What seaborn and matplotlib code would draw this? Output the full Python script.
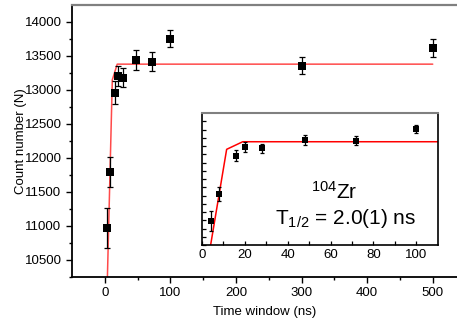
import numpy as np
import pandas as pd
import matplotlib
matplotlib.use('Agg')
import matplotlib.pyplot as plt
import seaborn as sns

# measured points
time_ns = [4, 8, 16, 20, 28, 48, 72, 100, 300, 500]
counts = [10970, 11790, 12960, 13210, 13180, 13445, 13415, 13755, 13360, 13620]
errors = [300, 220, 170, 150, 140, 150, 140, 120, 130, 130]

# fitted curve
fit_x = [4, 11.5, 19, 500]
fit_y = [10240, 13150, 13380, 13380]

data = pd.DataFrame({'t': time_ns, 'n': counts, 'err': errors})
fit = pd.DataFrame({'t': fit_x, 'n': fit_y})

sns.set_style("ticks")
plt.rcParams['font.family'] = ['Liberation Sans', 'DejaVu Sans']
plt.rcParams['mathtext.fontset'] = 'custom'
plt.rcParams['mathtext.rm'] = 'Liberation Sans'
plt.rcParams['mathtext.it'] = 'Liberation Sans:italic'
for k in ['text.color', 'axes.labelcolor', 'xtick.color', 'ytick.color']:
    plt.rcParams[k] = 'black'

fig = plt.figure(figsize=(4.57, 3.22), dpi=100)
ax = fig.add_axes([0.1575, 0.1398, 0.8425, 0.8447])


def draw(ax, ms, cap, lw_fit, fit_color):
    sns.lineplot(data=fit, x='t', y='n', ax=ax, color=fit_color, lw=lw_fit,
                 sort=False, estimator=None, zorder=2)
    ax.errorbar(data['t'], data['n'], yerr=data['err'], fmt='none',
                ecolor='black', elinewidth=0.9, capsize=cap, capthick=0.9, zorder=3)
    sns.scatterplot(data=data, x='t', y='n', ax=ax, marker='s', s=ms ** 2,
                    color='black', edgecolor='black', linewidth=0, zorder=4)
    ax.set_ylim(10260, 14250)
    ax.set_xlabel('')
    ax.set_ylabel('')


draw(ax, 6, 2.2, 1.1, '#ff4a4a')
ax.set_xlim(-50, 537)
ax.set_xticks([0, 100, 200, 300, 400, 500])
ax.set_xticks(np.arange(50, 537, 100), minor=True)
ax.set_yticks(np.arange(10500, 14001, 500))
ax.set_yticks(np.arange(10250, 14250, 500), minor=True)
ax.tick_params(which='major', direction='out', length=4, width=1, labelsize=9.5)
ax.tick_params(which='minor', direction='out', length=2.5, width=1)
ax.spines['right'].set_visible(False)
ax.spines['top'].set_color('#808080')
ax.spines['top'].set_linewidth(1.6)
for s in ['left', 'bottom']:
    ax.spines[s].set_color('black')
    ax.spines[s].set_linewidth(1.3)
ax.set_xlabel('Time window (ns)', fontsize=9.5, labelpad=5)
ax.set_ylabel('Count number (N)', fontsize=9.5)
ax.yaxis.set_label_coords(-0.117, 0.5)

# inset
ins = fig.add_axes([0.442, 0.239, 0.516, 0.410])
draw(ins, 4.6, 1.6, 1.1, 'red')
ins.set_xlim(0, 110)
ins.set_xticks([0, 20, 40, 60, 80, 100])
ins.set_xticks(np.arange(10, 110, 20), minor=True)
ins.set_yticks(np.arange(10500, 14250, 500))
ins.set_yticks(np.arange(10250, 14250, 500), minor=True)
ins.tick_params(which='both', direction='in', length=3, width=0.9, labelsize=9.5,
                labelleft=False)
ins.tick_params(axis='x', pad=3)
for s in ['left', 'bottom', 'right']:
    ins.spines[s].set_color('black')
    ins.spines[s].set_linewidth(1.2)
ins.spines['top'].set_color('#808080')
ins.spines['top'].set_linewidth(1.5)
ins.text(0.56, 0.40, r'$^{104}$Zr', transform=ins.transAxes, fontsize=15,
         ha='center', va='center')
ins.text(0.61, 0.20, r'T$_{1/2}$ = 2.0(1) ns', transform=ins.transAxes, fontsize=15,
         ha='center', va='center')

fig.savefig('out.png', dpi=100)
